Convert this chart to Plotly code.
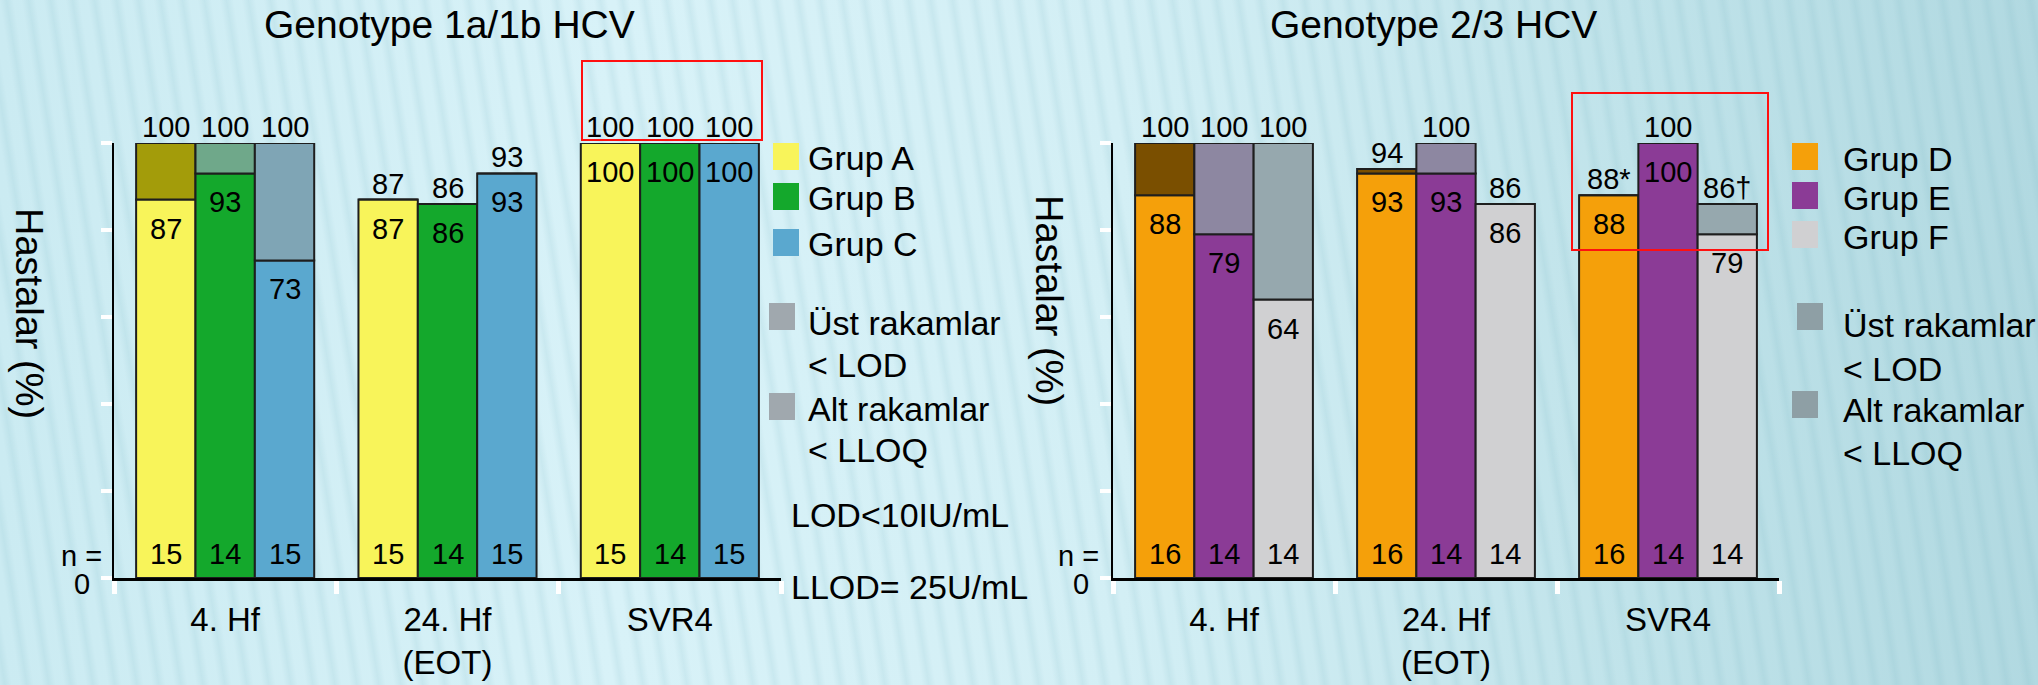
import base64
import plotly.graph_objects as go

W, H = 2038, 685
FONT = "Liberation Sans, Arial, sans-serif"

# ---- data -------------------------------------------------------------
categories = ["4. Hf", "24. Hf<br>(EOT)", "SVR4"]

# Genotype 1a/1b HCV
g1_names = ["Grup A", "Grup B", "Grup C"]
g1_lod = [[100, 87, 100], [100, 86, 100], [100, 93, 100]]    # upper numbers (< LOD)
g1_lloq = [[87, 87, 100], [93, 86, 100], [73, 93, 100]]     # lower numbers (< LLOQ)
g1_n = [[15, 15, 15], [14, 14, 14], [15, 15, 15]]
g1_marks = [["", "", ""], ["", "", ""], ["", "", ""]]

# Genotype 2/3 HCV
g2_names = ["Grup D", "Grup E", "Grup F"]
g2_lod = [[100, 94, 88], [100, 100, 100], [100, 86, 86]]
g2_lloq = [[88, 93, 88], [79, 93, 100], [64, 86, 79]]
g2_n = [[16, 16, 16], [14, 14, 14], [14, 14, 14]]
g2_marks = [["", "", "*"], ["", "", ""], ["", "", "†"]]

# ---- styling ----------------------------------------------------------
g1_colors = ["#F8F45A", "#14A82C", "#5AA8CF"]
g1_top_colors = ["#A39C0A", "#6FA88A", "#7FA5B5"]
g2_colors = ["#F5A00A", "#8B3B96", "#D0D0D2"]
g2_top_colors = ["#7A4F00", "#8D87A1", "#96A8AE"]
EDGE = "#1E1E1E"
BAR_W = 0.267


def px(x):
    return x / W


def py(y):
    return 1 - y / H


fig = go.Figure()

panels = [
    dict(names=g1_names, lod=g1_lod, lloq=g1_lloq, n=g1_n, marks=g1_marks,
         colors=g1_colors, tops=g1_top_colors, xa="x", ya="y"),
    dict(names=g2_names, lod=g2_lod, lloq=g2_lloq, n=g2_n, marks=g2_marks,
         colors=g2_colors, tops=g2_top_colors, xa="x2", ya="y2"),
]

annotations = []
for p in panels:
    for g, name in enumerate(p["names"]):
        off = -1.5 * BAR_W + g * BAR_W
        low = p["lloq"][g]
        high = p["lod"][g]
        fig.add_trace(go.Bar(
            x=categories, y=low, width=BAR_W, offset=off, name=name,
            marker=dict(color=p["colors"][g], line=dict(color=EDGE, width=2)),
            xaxis=p["xa"], yaxis=p["ya"], showlegend=False, hoverinfo="skip"))
        fig.add_trace(go.Bar(
            x=categories, y=[h - l for h, l in zip(high, low)], base=low,
            width=BAR_W, offset=off, name=name + " < LOD",
            marker=dict(color=p["tops"][g], line=dict(color=EDGE, width=2)),
            xaxis=p["xa"], yaxis=p["ya"], showlegend=False, hoverinfo="skip"))
        for c in range(len(categories)):
            xc = c + (g - 1) * BAR_W
            # upper value above the bar
            annotations.append(dict(
                x=xc, y=high[c], xref=p["xa"], yref=p["ya"],
                text=f"{high[c]}{p['marks'][g][c]}", showarrow=False,
                xanchor="center", yanchor="bottom", yshift=-2,
                font=dict(size=29)))
            # lower value inside the bar
            annotations.append(dict(
                x=xc, y=low[c], xref=p["xa"], yref=p["ya"],
                text=str(low[c]), showarrow=False,
                xanchor="center", yanchor="top", yshift=-11,
                font=dict(size=29)))
            # patient count at the foot of the bar
            annotations.append(dict(
                x=xc, y=0, xref=p["xa"], yref=p["ya"],
                text=str(p["n"][g][c]), showarrow=False,
                xanchor="center", yanchor="bottom", yshift=6,
                font=dict(size=29)))

# ---- panel furniture ----------------------------------------------------
for ya, x0, xn, xt, yt, title_x, title in [
    ("y", 92, 104, 29, 313, 449, "Genotype 1a/1b HCV"),
    ("y2", 1091, 1101, 1049, 300, 1433, "Genotype 2/3 HCV"),
]:
    annotations.append(dict(x=px(x0), y=0, xref="paper", yref=ya, text="0",
                            showarrow=False, xanchor="right", yanchor="middle",
                            yshift=-6, font=dict(size=29)))
    annotations.append(dict(x=px(xn), y=0, xref="paper", yref=ya, text="n =",
                            showarrow=False, xanchor="right", yanchor="middle",
                            yshift=22, font=dict(size=29)))
    annotations.append(dict(x=px(xt), y=py(yt), xref="paper", yref="paper",
                            text="Hastalar (%)", textangle=90, showarrow=False,
                            xanchor="center", yanchor="middle",
                            font=dict(size=38)))
    annotations.append(dict(x=px(title_x), y=py(25), xref="paper", yref="paper",
                            text=title, showarrow=False, xanchor="center",
                            yanchor="middle", font=dict(size=39)))

# ---- legends --------------------------------------------------------------
shapes = []


def swatch(x0, y0, color):
    shapes.append(dict(type="rect", xref="paper", yref="paper",
                       x0=px(x0), x1=px(x0 + 26), y0=py(y0), y1=py(y0 + 27),
                       fillcolor=color, line=dict(width=0), layer="above"))


def label(x, y, text, size=34):
    annotations.append(dict(x=px(x), y=py(y), xref="paper", yref="paper",
                            text=text, showarrow=False, xanchor="left",
                            yanchor="middle", font=dict(size=size)))


for i, (name, col) in enumerate(zip(g1_names, g1_colors)):
    top = [143, 183, 229][i]
    swatch(773, top, col)
    label(806, top + 15, name)
swatch(769, 303, "#A0A8AE")
label(806, 323, "Üst rakamlar")
label(806, 365, "< LOD")
swatch(769, 393, "#A0A8AE")
label(806, 409, "Alt rakamlar")
label(806, 450, "< LLOQ")
label(789, 515, "LOD<10IU/mL", 34)
label(789, 587, "LLOD= 25U/mL", 34)

for i, (name, col) in enumerate(zip(g2_names, g2_colors)):
    top = [143, 182, 221][i]
    swatch(1792, top, col)
    label(1841, top + 16, name)
swatch(1797, 303, "#8E9FA5")
label(1841, 325, "Üst rakamlar")
label(1841, 369, "< LOD")
swatch(1792, 391, "#8E9FA5")
label(1841, 410, "Alt rakamlar")
label(1841, 453, "< LLOQ")

# highlight boxes around SVR4
for x0, x1, y0, y1 in [(582, 762, 61, 140), (1572, 1768, 93, 250)]:
    shapes.append(dict(type="rect", xref="paper", yref="paper",
                       x0=px(x0), x1=px(x1), y0=py(y1), y1=py(y0),
                       line=dict(color="#FF1010", width=2), layer="above"))

# ---- striped background ---------------------------------------------------
svg = f"""<svg xmlns='http://www.w3.org/2000/svg' width='{W}' height='{H}' viewBox='0 0 {W} {H}' preserveAspectRatio='none'>
<defs>
<linearGradient id='bg' x1='0' y1='0' x2='1' y2='0'>
<stop offset='0' stop-color='#CBEBF2'/>
<stop offset='0.3' stop-color='#D8F2F8'/>
<stop offset='0.55' stop-color='#D3EFF5'/>
<stop offset='0.8' stop-color='#C0E3EA'/>
<stop offset='1' stop-color='#B1D9E1'/>
</linearGradient>
<linearGradient id='st' x1='0' y1='0' x2='1' y2='0'>
<stop offset='0' stop-color='#6FAEBB' stop-opacity='0'/>
<stop offset='0.5' stop-color='#6FAEBB' stop-opacity='0.13'/>
<stop offset='1' stop-color='#6FAEBB' stop-opacity='0'/>
</linearGradient>
<pattern id='pt' width='22' height='{H}' patternUnits='userSpaceOnUse' patternTransform='skewX(9)'>
<rect x='0' y='0' width='13' height='{H}' fill='url(#st)'/>
</pattern>
</defs>
<rect width='{W}' height='{H}' fill='url(#bg)'/>
<rect x='-300' width='{W + 600}' height='{H}' fill='url(#pt)'/>
</svg>"""
bg_uri = "data:image/svg+xml;base64," + base64.b64encode(svg.encode()).decode()

xaxis_style = dict(type="category", range=[-0.5, 2.5], tickson="boundaries",
                   ticks="outside", ticklen=13, tickwidth=5, tickcolor="white",
                   showline=True, linecolor="black", linewidth=2.5,
                   showgrid=False, zeroline=False, tickfont=dict(size=33),
                   ticklabelstandoff=11, fixedrange=True)
yaxis_style = dict(range=[0, 100], tickvals=[0, 20, 40, 60, 80, 100],
                   ticks="outside", ticklen=11, tickwidth=4, tickcolor="white",
                   showticklabels=False, showline=True, linecolor="black",
                   linewidth=2, showgrid=False, zeroline=False, fixedrange=True)

fig.update_layout(
    width=W, height=H, margin=dict(l=0, r=0, t=0, b=0),
    paper_bgcolor="#D0EEF4", plot_bgcolor="rgba(0,0,0,0)",
    font=dict(family=FONT, color="black"),
    barmode="overlay", showlegend=False,
    xaxis=dict(domain=[px(114), px(781)], anchor="y", **xaxis_style),
    yaxis=dict(domain=[py(578), py(143)], anchor="x", **yaxis_style),
    xaxis2=dict(domain=[px(1113), px(1779)], anchor="y2", **xaxis_style),
    yaxis2=dict(domain=[py(578), py(143)], anchor="x2", **yaxis_style),
    annotations=annotations, shapes=shapes,
    images=[dict(source=bg_uri, xref="paper", yref="paper", x=0, y=1,
                 sizex=1, sizey=1, sizing="stretch", layer="below",
                 xanchor="left", yanchor="top")],
)

fig.write_html("out.html")
